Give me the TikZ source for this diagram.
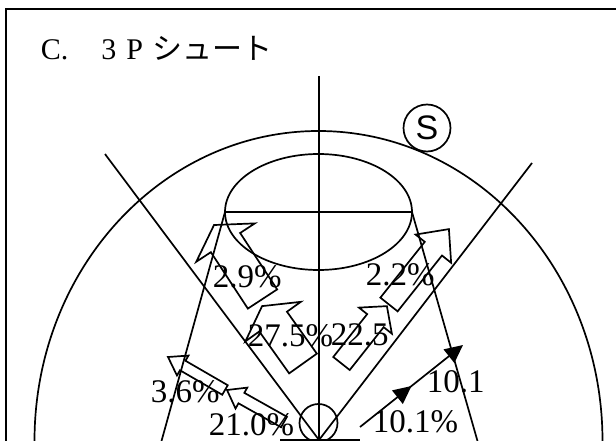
\documentclass[tikz,border=0pt]{standalone}
\usepackage{fontspec}
\setmainfont{Liberation Serif}
\newfontfamily\jpfont{Noto Sans CJK JP}
\newfontfamily\sansfont{Liberation Sans}
\usetikzlibrary{calc,arrows.meta,decorations.markings}
\newcommand{\blockarr}[7]{%
  \pgfmathsetmacro\baang{atan2(#2-#4,#3-#1)}%
  \pgfmathsetmacro\balen{veclen(#3-#1,#4-#2)}%
  \pgfmathsetmacro\baneck{\balen-#7}%
  \begin{scope}[shift={(#1,#2)},rotate=\baang]
    \draw[barrow] (0,#5) -- (\baneck,#5) -- (\baneck,#6) -- (\balen,0) -- (\baneck,-#6) -- (\baneck,-#5) -- (0,-#5) -- cycle;
  \end{scope}}
\begin{document}
\begin{tikzpicture}[x=1pt,y=-1pt,line width=1.7pt,
  barrow/.style={draw,line join=miter},
  lbl/.style={anchor=base west,inner sep=0pt,font=\fontsize{33}{33}\selectfont},
  tri/.style={-{Triangle[length=18pt,width=17pt]}}]
\useasboundingbox (0,0) rectangle (616,441);
\clip (0,0) rectangle (616,441);
% frame
\draw[line width=2pt] (5.5,460) -- (5.5,9) -- (640,9);
% title
\node[anchor=base west,inner sep=0pt,font=\fontsize{30}{30}\selectfont] (title) at (40,60)
  {C.\hspace{33pt}3\hspace{10pt}P\hspace{9pt}{\jpfont シュート}};
% court lines
\draw (318.5,441) ellipse [x radius=284,y radius=310];
\draw (318.5,212) ellipse [x radius=93.5,y radius=58];
\draw (225,212) -- (412,212);
\draw (319,76) -- (319,441);
\draw (105,154) -- (319,440) -- (532,163);
\draw (225,212) -- (161.5,441);
\draw (412,212) -- (477.5,441);
% basket
\draw (318.5,423) circle [radius=19];
\draw (280,440) -- (360,440);
% S mark
\node[circle,draw,fill=white,minimum size=47pt,inner sep=0pt,font=\sansfont\fontsize{34}{34}\selectfont] (s) at (427,128) {S};
% block arrows
\blockarr{262.5}{299}{214}{225}{17.5}{35}{21}
\blockarr{389}{304.5}{449}{229}{11}{22.7}{25}
\blockarr{303}{363.5}{262}{306}{17}{34}{19}
\blockarr{341.5}{363.5}{387}{306}{10.5}{21}{18.5}
\blockarr{225}{390}{168}{357}{5.5}{11.5}{17}
\blockarr{284}{422}{227}{390}{6}{12}{16.5}
% drive line
\coordinate (g1) at (360,427);
\coordinate (g2) at (463,345);
\draw[tri,postaction={decorate},decoration={markings,mark=at position 0.5 with {\arrow{Triangle[length=18pt,width=17pt]}}}] (g1) -- (g2);
% labels
\node[lbl] (l29) at (212,287) {2.9\%};
\node[lbl] (l22) at (365,285) {2.2\%};
\node[lbl] (l275) at (247,346) {27.5\%};
\node[lbl] (l225) at (330,345) {22.5};
\node[lbl] (l36) at (150,402) {3.6\%};
\node[lbl] (l21) at (208,435) {21.0\%};
\node[lbl] (l101a) at (426,392) {10.1};
\node[lbl] (l101b) at (372,432) {10.1\%};
\end{tikzpicture}
\end{document}
